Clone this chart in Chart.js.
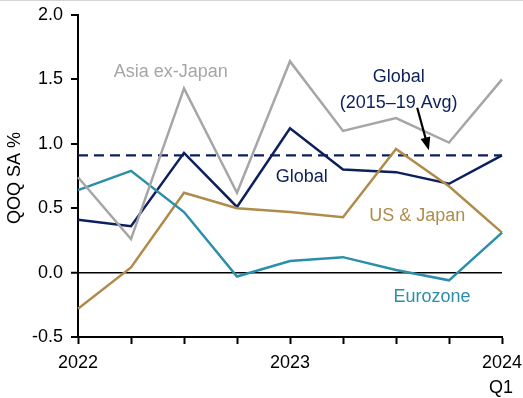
<!DOCTYPE html>
<html>
<head>
<meta charset="utf-8">
<script src="https://cdn.jsdelivr.net/npm/chart.js@4/dist/chart.umd.min.js"></script>
<style>
  html, body { margin: 0; padding: 0; background: #fff; }
  #wrap { width: 523px; height: 398px; position: relative; }
</style>
</head>
<body>
<div id="wrap"><canvas id="c" width="523" height="398"></canvas></div>
<script>
// Quarterly growth, 2022 Q1 – 2024 Q1
const quarters = ['2022', '', '', '', '2023', '', '', '', '2024'];
const globalGrowth = [0.41, 0.36, 0.93, 0.51, 1.12, 0.80, 0.78, 0.69, 0.91];
const asiaExJapan  = [0.74, 0.26, 1.43, 0.62, 1.64, 1.10, 1.20, 1.01, 1.50];
const usJapan      = [-0.28, 0.04, 0.62, 0.50, 0.47, 0.43, 0.96, 0.67, 0.31];
const eurozone     = [0.64, 0.79, 0.47, -0.03, 0.09, 0.12, 0.02, -0.06, 0.31];
const globalAvg2015to19 = 0.91;
const yTicks = [-0.5, 0.0, 0.5, 1.0, 1.5, 2.0];

const NAVY = '#0d1f5c';
const GREY = '#a6a6a6';
const GOLD = '#b08c4a';
const TEAL = '#2b8fa9';
const FONT = '"Liberation Sans", Arial, sans-serif';

// Text labels placed at data coordinates (index, value)
const seriesLabels = [
  { text: ['Asia ex-Japan'], x: 1.75, y: 1.56, color: GREY },
  { text: ['Global'], x: 4.22, y: 0.74, color: NAVY },
  { text: ['Global', '(2015\u201319 Avg)'], x: 6.05, y: 1.42, color: NAVY },
  { text: ['US & Japan'], x: 6.4, y: 0.44, color: GOLD },
  { text: ['Eurozone'], x: 6.68, y: -0.19, color: TEAL }
];

const annotations = {
  id: 'annotations',
  afterDatasetsDraw(chart) {
    const { ctx, scales: { x, y } } = chart;
    ctx.save();
    ctx.font = '18px ' + FONT;
    ctx.textAlign = 'center';
    ctx.textBaseline = 'middle';
    seriesLabels.forEach(l => {
      ctx.fillStyle = l.color;
      const px = x.getPixelForValue(l.x);
      const py = y.getPixelForValue(l.y);
      l.text.forEach((t, i) => ctx.fillText(t, px, py + i * 26 - (l.text.length - 1) * 13));
    });

    // arrow pointing at the average line
    const x0 = x.getPixelForValue(6.4), y0 = y.getPixelForValue(1.28);
    const x1 = x.getPixelForValue(6.62), y1 = y.getPixelForValue(0.95);
    const ang = Math.atan2(y1 - y0, x1 - x0);
    ctx.strokeStyle = '#000';
    ctx.fillStyle = '#000';
    ctx.lineWidth = 2.2;
    ctx.beginPath();
    ctx.moveTo(x0, y0);
    ctx.lineTo(x1 - 10 * Math.cos(ang), y1 - 10 * Math.sin(ang));
    ctx.stroke();
    ctx.beginPath();
    ctx.moveTo(x1, y1);
    ctx.lineTo(x1 - 13 * Math.cos(ang) + 5 * Math.sin(ang), y1 - 13 * Math.sin(ang) - 5 * Math.cos(ang));
    ctx.lineTo(x1 - 13 * Math.cos(ang) - 5 * Math.sin(ang), y1 - 13 * Math.sin(ang) + 5 * Math.cos(ang));
    ctx.closePath();
    ctx.fill();

    // axis title and quarter marker
    ctx.fillStyle = '#000';
    ctx.font = '18px ' + FONT;
    ctx.fillText('Q1', x.getPixelForValue(8) - 1, 388);
    ctx.translate(15, (y.top + y.bottom) / 2 + 2);
    ctx.rotate(-Math.PI / 2);
    ctx.fillText('QOQ SA %', 0, 0);
    ctx.restore();

    // thin frame line along the top edge
    ctx.save();
    ctx.strokeStyle = '#d4d4d4';
    ctx.lineWidth = 1;
    ctx.beginPath();
    ctx.moveTo(0, 0.5);
    ctx.lineTo(chart.width, 0.5);
    ctx.stroke();
    ctx.restore();
  }
};

const line = (label, data, color, extra) => Object.assign({
  label, data, borderColor: color, backgroundColor: color,
  borderWidth: 2.5, pointRadius: 0, tension: 0, fill: false
}, extra || {});

new Chart(document.getElementById('c'), {
  type: 'line',
  data: {
    labels: quarters,
    datasets: [
      line('Asia ex-Japan', asiaExJapan, GREY),
      line('Eurozone', eurozone, TEAL),
      line('US & Japan', usJapan, GOLD),
      line('Global', globalGrowth, NAVY),
      line('Global (2015\u201319 Avg)', quarters.map(() => globalAvg2015to19), NAVY,
        { borderDash: [10, 6], borderWidth: 2.2 })
    ]
  },
  options: {
    responsive: false,
    animation: false,
    layout: { padding: { left: 0, right: 21, top: 15, bottom: 0 } },
    plugins: { legend: { display: false }, tooltip: { enabled: false } },
    scales: {
      x: {
        type: 'category',
        offset: false,
        afterFit(s) { s.height = 61; s.paddingLeft = 0; s.paddingRight = 0; },
        border: { display: true, color: '#000', width: 2 },
        grid: { display: true, drawOnChartArea: false, tickColor: '#000', tickLength: 7, tickWidth: 2 },
        ticks: {
          autoSkip: false, maxRotation: 0, padding: 8,
          color: '#000', font: { family: FONT, size: 18 }
        }
      },
      y: {
        min: -0.5, max: 2.0,
        afterFit(s) { s.width = 78; s.paddingTop = 0; s.paddingBottom = 0; },
        afterBuildTicks(s) { s.ticks = yTicks.map(v => ({ value: v })); },
        border: { display: true, color: '#000', width: 2 },
        grid: {
          color: c => (c.tick && c.tick.value === 0) ? '#000' : 'rgba(0,0,0,0)',
          lineWidth: c => (c.tick && c.tick.value === 0) ? 1.5 : 0,
          tickColor: '#000', tickLength: 7, tickWidth: 2
        },
        ticks: {
          padding: 8, color: '#000', font: { family: FONT, size: 18 },
          callback: v => Number(v).toFixed(1)
        }
      }
    }
  },
  plugins: [annotations]
});
</script>
</body>
</html>
